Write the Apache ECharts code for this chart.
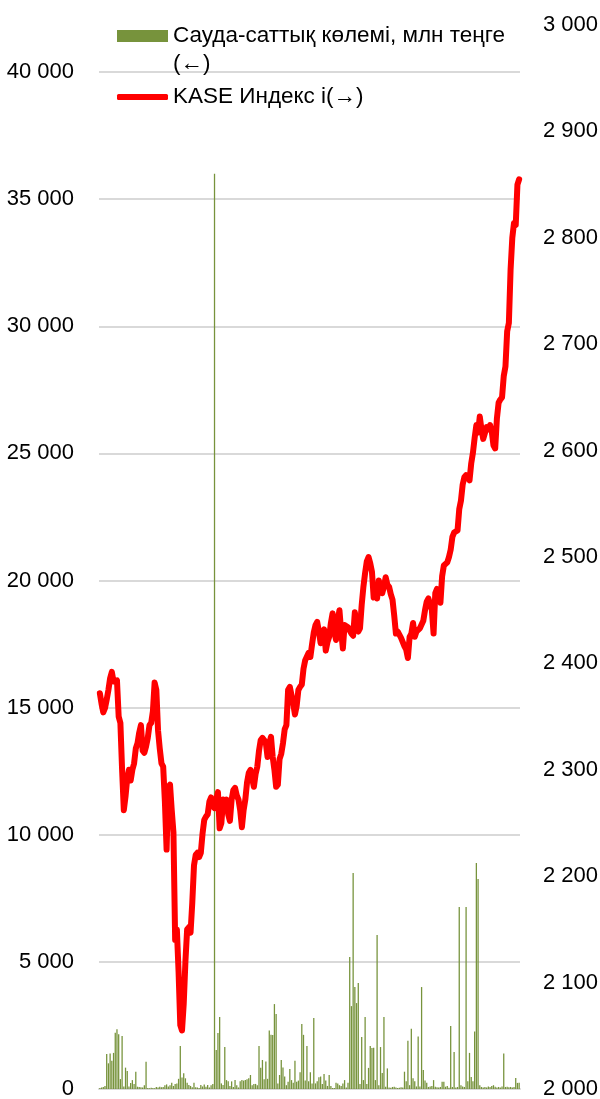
<!DOCTYPE html>
<html>
<head>
<meta charset="utf-8">
<script src="https://cdn.jsdelivr.net/npm/echarts@6/dist/echarts.min.js"></script>
<style>
html,body{margin:0;padding:0;background:#fff;}
#chart{width:600px;height:1099px;}
</style>
</head>
<body>
<div id="chart"></div>
<script>
// Trading days (index only, no labels shown on the chart)
const days = Array.from({length: 246}, (_, i) => 'D' + (i + 1));

// Trading volume, mln tenge (left axis)
const volume = [
  40, 60, 80, 120, 1380, 1010, 1400, 1110, 1420, 2210,
  2350, 2150, 390, 2080, 100, 840, 710, 100, 240, 350,
  200, 680, 90, 80, 70, 60, 150, 1070, 40, 30,
  50, 40, 30, 80, 60, 90, 70, 80, 150, 180,
  100, 150, 250, 120, 200, 220, 400, 1690, 450, 620,
  420, 250, 160, 120, 70, 250, 70, 60, 40, 160,
  100, 180, 90, 160, 60, 150, 200, 36000, 1530, 2200,
  2830, 220, 160, 1650, 350, 300, 120, 300, 80, 350,
  150, 60, 300, 350, 330, 350, 380, 420, 550, 150,
  200, 200, 150, 1690, 840, 1140, 380, 1080, 400, 2300,
  2130, 2120, 3340, 2950, 220, 550, 1140, 850, 490, 150,
  290, 790, 350, 250, 1110, 290, 330, 660, 2560, 2130,
  330, 1690, 300, 660, 220, 2790, 220, 300, 460, 490,
  200, 590, 330, 120, 550, 120, 40, 40, 250, 220,
  150, 120, 220, 350, 60, 250, 5190, 3260, 8500, 4010,
  3380, 4170, 200, 2050, 350, 2830, 200, 830, 1690, 1610,
  1620, 350, 6060, 150, 1650, 630, 2830, 90, 810, 60,
  50, 80, 90, 60, 40, 50, 70, 60, 680, 300,
  1900, 150, 2370, 420, 300, 100, 2060, 100, 4010, 750,
  330, 250, 80, 100, 120, 350, 90, 70, 60, 80,
  290, 290, 90, 120, 50, 2480, 80, 1460, 60, 80,
  7160, 150, 100, 80, 7160, 300, 1420, 470, 300, 2260,
  8890, 8260, 150, 80, 60, 80, 60, 100, 80, 120,
  150, 90, 60, 80, 60, 100, 1400, 80, 90, 70,
  80, 60, 80, 430, 240, 250
];

// KASE index (right axis)
const kase = [
  2372, 2362, 2354, 2358, 2366, 2375, 2386, 2392, 2383, 2382,
  2384, 2350, 2344, 2300, 2262, 2275, 2292, 2300, 2290, 2300,
  2306, 2320, 2325, 2335, 2342, 2318, 2316, 2322, 2330, 2342,
  2344, 2355, 2382, 2375, 2337, 2320, 2306, 2303, 2270, 2225,
  2284, 2286, 2262, 2241, 2140, 2150, 2110, 2060, 2055, 2080,
  2120, 2150, 2152, 2147, 2175, 2210, 2220, 2222, 2218, 2222,
  2240, 2253, 2256, 2258, 2270, 2274, 2266, 2264, 2272, 2279,
  2245, 2250, 2272, 2270, 2272, 2258, 2252, 2272, 2281, 2283,
  2276, 2272, 2262, 2246, 2262, 2272, 2288, 2297, 2300, 2292,
  2284, 2296, 2303, 2318, 2328, 2330, 2328, 2325, 2312, 2325,
  2331, 2312, 2300, 2284, 2286, 2310, 2315, 2325, 2338, 2342,
  2375, 2378, 2370, 2362, 2352, 2360, 2375, 2378, 2380, 2395,
  2403, 2404, 2410, 2406, 2418, 2429, 2436, 2439, 2430, 2419,
  2429, 2432, 2412, 2420, 2425, 2438, 2447, 2430, 2422, 2440,
  2450, 2430, 2414, 2436, 2436, 2434, 2434, 2428, 2426, 2448,
  2432, 2430, 2433, 2455, 2472, 2485, 2496, 2500, 2494, 2486,
  2462, 2466, 2461, 2478, 2470, 2466, 2472, 2481, 2474, 2472,
  2465, 2460, 2445, 2428, 2430, 2427, 2424, 2420, 2416, 2413,
  2405, 2425, 2428, 2438, 2425, 2430, 2431, 2433, 2433, 2440,
  2450, 2458, 2461, 2461, 2450, 2428, 2466, 2470, 2470, 2457,
  2482, 2492, 2493, 2495, 2500, 2507, 2519, 2523, 2522, 2525,
  2545, 2553, 2568, 2575, 2577, 2575, 2572, 2588, 2598, 2612,
  2624, 2617, 2632, 2620, 2611, 2610, 2622, 2620, 2624, 2618,
  2605, 2602, 2630, 2645, 2648, 2650, 2670, 2679, 2712, 2720,
  2770, 2800, 2814, 2812, 2850, 2855
];

const volumeName = 'Сауда-саттық көлемі, млн теңге (←)';
const kaseName = 'KASE Индекс і(→)';

const fontFamily = '"Liberation Sans", Arial, sans-serif';
const fmt = v => String(v).replace(/\B(?=(\d{3})+(?!\d))/g, ' ');

const chart = echarts.init(document.getElementById('chart'), null, {renderer: 'canvas'});
chart.setOption({
  animation: false,
  backgroundColor: '#ffffff',
  textStyle: {fontFamily: fontFamily},
  legend: [
    {
      orient: 'vertical', left: 112, top: -11,
      data: [{name: volumeName, icon: 'rect'}],
      itemWidth: 51, itemHeight: 12,
      formatter: () => ' \nСауда-саттық көлемі, млн теңге\n(←)',
      textStyle: {fontSize: 22.5, lineHeight: 28, color: '#000', fontFamily: fontFamily}
    },
    {
      orient: 'vertical', left: 112, top: 78,
      data: [{name: kaseName, icon: 'roundRect'}],
      itemWidth: 51, itemHeight: 6,
      textStyle: {fontSize: 22.5, lineHeight: 28, color: '#000', fontFamily: fontFamily}
    }
  ],
  grid: [
    {left: 99, right: 80, top: 72, bottom: 10, containLabel: false, outerBoundsMode: 'none'},
    {left: 99, right: 80, top: 25, bottom: 10, containLabel: false, outerBoundsMode: 'none'}
  ],
  xAxis: [
    {type: 'category', gridIndex: 0, data: days, boundaryGap: true,
     axisLabel: {show: false}, axisTick: {show: false},
     axisLine: {show: true, lineStyle: {color: '#D9D9D9', width: 2}}},
    {type: 'category', gridIndex: 1, data: days, boundaryGap: true, show: false}
  ],
  yAxis: [
    {type: 'value', gridIndex: 0, min: 0, max: 40000, interval: 5000, position: 'left',
     axisLine: {show: false}, axisTick: {show: false},
     axisLabel: {formatter: fmt, fontSize: 22, color: '#000', margin: 25, fontFamily: fontFamily},
     splitLine: {show: true, lineStyle: {color: '#D9D9D9', width: 2}}},
    {type: 'value', gridIndex: 1, min: 2000, max: 3000, interval: 100, position: 'right',
     axisLine: {show: false}, axisTick: {show: false},
     axisLabel: {formatter: fmt, fontSize: 22, color: '#000', margin: 23, fontFamily: fontFamily},
     splitLine: {show: false}}
  ],
  series: [
    {
      name: volumeName, type: 'bar', xAxisIndex: 0, yAxisIndex: 0,
      data: volume, barCategoryGap: '25%',
      itemStyle: {color: '#77933C'}
    },
    {
      name: kaseName, type: 'line', xAxisIndex: 1, yAxisIndex: 1,
      data: kase, symbol: 'none', smooth: false,
      lineStyle: {color: '#FF0000', width: 6, join: 'round', cap: 'round'},
      itemStyle: {color: '#FF0000'}
    }
  ]
});
</script>
</body>
</html>
